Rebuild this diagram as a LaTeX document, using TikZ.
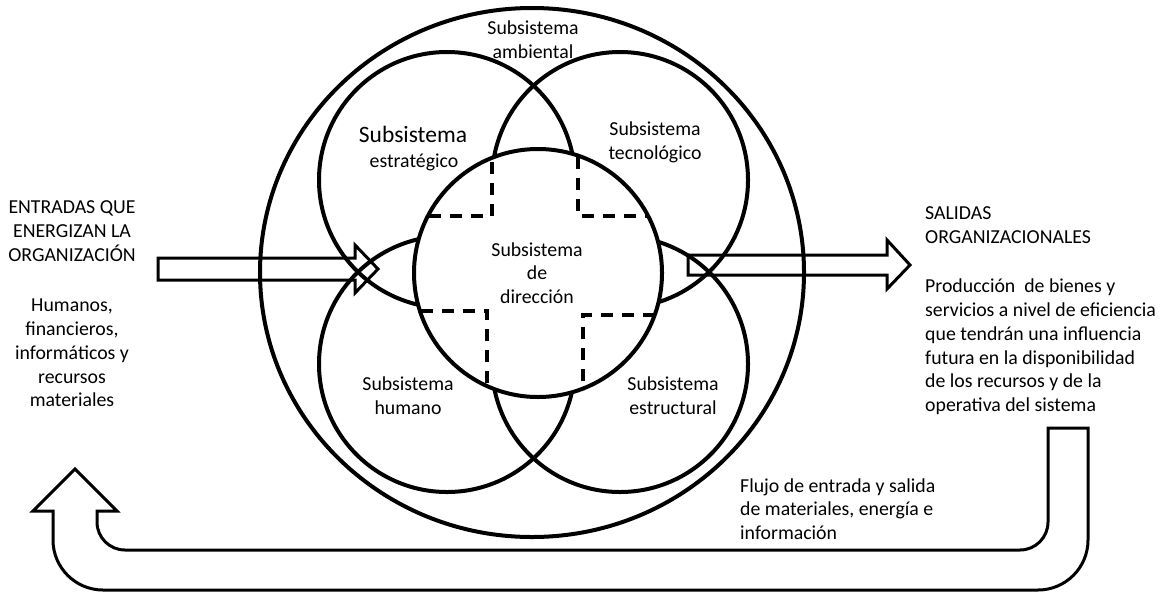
\documentclass[tikz,border=0pt]{standalone}
\usepackage{fontspec}
\setmainfont{Carlito}
\begin{document}
\begin{tikzpicture}[x=1pt,y=-1pt,
  ring/.style={line width=4pt},
  dashl/.style={line width=3.8pt, dash pattern=on 12pt off 9pt},
  blockarrow/.style={draw, line width=3pt, line join=miter},
  lbl/.style={font=\fontsize{19.8}{23.8}\selectfont, align=center, inner sep=0pt},
  lbll/.style={font=\fontsize{19.8}{23.8}\selectfont, align=left, inner sep=0pt, anchor=west}]
\useasboundingbox (0,0) rectangle (1166,592);
% outer system
\draw[ring] (532,272.5) ellipse[x radius=272pt, y radius=264.5pt];
% four subsystems
\draw[ring] (447,180) circle[radius=128pt];
\draw[ring] (620,180) circle[radius=128pt];
\draw[ring] (447,364) circle[radius=128pt];
\draw[ring] (620,364) circle[radius=128pt];
% central subsystem
\fill[white] (538,273) circle[radius=124pt];
\draw[ring] (538,273) circle[radius=124pt];
% dashed internal borders
\draw[dashl] (492,162) -- (492,216) -- (428,216);
\draw[dashl] (578,157) -- (578,216) -- (648,216);
\draw[dashl] (421,311) -- (487,311) -- (487,388);
\draw[dashl] (655,315) -- (583,315) -- (583,390);
% input arrow
\draw[blockarrow] (158,258) -- (355,258) -- (355,245) -- (378,269) -- (355,293) -- (355,280) -- (158,280) -- cycle;
% output arrow
\draw[blockarrow] (688,255) -- (887,255) -- (887,240) -- (910,265) -- (887,289) -- (887,275) -- (688,275) -- cycle;
% feedback arrow
\draw[blockarrow] (1048,428) -- (1088,428) -- (1088,540)
  .. controls (1088,567.6) and (1065.6,590) .. (1038,590) -- (103,590)
  .. controls (75.4,590) and (53,567.6) .. (53,540) -- (53,511) -- (33,511) -- (75,469) -- (117,511) -- (97,511) -- (97,522)
  .. controls (97,537.5) and (109.5,550) .. (125,550) -- (1020,550)
  .. controls (1035.5,550) and (1048,537.5) .. (1048,522) -- cycle;
% labels
\node[lbl] (amb) at (533,40) {Subsistema\\ambiental};
\node[lbl, font=\fontsize{23.5}{27}\selectfont] (est1) at (413,134) {Subsistema};
\node[lbl] (est2) at (414,162) {estratégico};
\node[lbl] (tec) at (655,142) {Subsistema\\tecnológico};
\node[lbl] (dir) at (537,273) {Subsistema\\de\\dirección};
\node[lbl] (hum) at (408,396) {Subsistema\\humano};
\node[lbl] (estr) at (673,396) {Subsistema\\estructural};
\node[lbl] (ent) at (72,231) {ENTRADAS QUE\\ENERGIZAN LA\\ORGANIZACIÓN};
\node[lbl] (rec) at (72,353) {Humanos,\\financieros,\\informáticos y\\recursos\\materiales};
\node[lbll] (sal) at (925,225) {SALIDAS\\ORGANIZACIONALES};
\node[lbll] (prod) at (925,347) {Producción\ \ de bienes y\\servicios a nivel de eficiencia\\que tendrán una influencia\\futura en la disponibilidad\\de los recursos y de la\\operativa del sistema};
\node[lbll] (flujo) at (740,509) {Flujo de entrada y salida\\de materiales, energía e\\información};
\end{tikzpicture}
\end{document}
